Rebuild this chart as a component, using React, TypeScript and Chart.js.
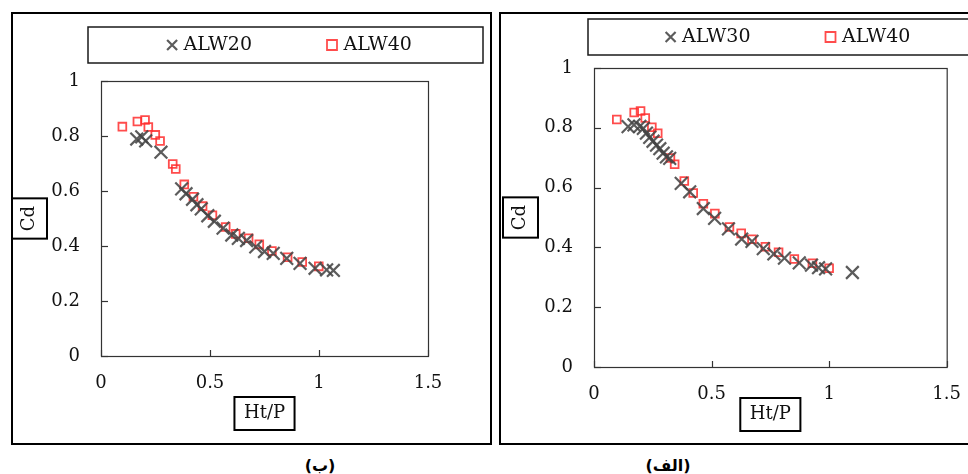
import React, { useEffect, useRef } from "react";
import { Chart, registerables } from "chart.js";

Chart.register(...registerables);

// ---------- Panel (ب) ----------
const alw20Ht = [0.164, 0.187, 0.205, 0.275, 0.37, 0.39, 0.42, 0.44, 0.46, 0.49, 0.52, 0.56, 0.6, 0.63, 0.668, 0.71, 0.75, 0.79, 0.852, 0.913, 0.982, 1.035, 1.066];
const alw20Cd = [0.789, 0.797, 0.782, 0.741, 0.608, 0.59, 0.57, 0.55, 0.535, 0.51, 0.49, 0.465, 0.44, 0.428, 0.42, 0.397, 0.38, 0.373, 0.355, 0.337, 0.319, 0.313, 0.311];
const alw40bHt = [0.098, 0.167, 0.202, 0.217, 0.249, 0.271, 0.329, 0.343, 0.382, 0.424, 0.466, 0.511, 0.572, 0.618, 0.677, 0.726, 0.784, 0.856, 0.923, 0.999];
const alw40bCd = [0.834, 0.853, 0.858, 0.833, 0.804, 0.782, 0.698, 0.68, 0.624, 0.579, 0.545, 0.512, 0.469, 0.444, 0.428, 0.406, 0.382, 0.359, 0.342, 0.326];

// ---------- Panel (الف) ----------
const alw30Ht = [0.145, 0.17, 0.195, 0.21, 0.223, 0.237, 0.251, 0.266, 0.28, 0.294, 0.308, 0.322, 0.371, 0.407, 0.465, 0.513, 0.572, 0.628, 0.672, 0.72, 0.765, 0.81, 0.873, 0.925, 0.955, 0.985, 1.099];
const alw30Cd = [0.804, 0.81, 0.805, 0.798, 0.782, 0.768, 0.755, 0.742, 0.73, 0.715, 0.703, 0.698, 0.614, 0.586, 0.53, 0.497, 0.462, 0.428, 0.42, 0.396, 0.378, 0.364, 0.348, 0.341, 0.332, 0.328, 0.316];
const alw40aHt = [0.097, 0.171, 0.198, 0.218, 0.246, 0.271, 0.325, 0.343, 0.384, 0.422, 0.465, 0.514, 0.576, 0.626, 0.672, 0.729, 0.785, 0.852, 0.929, 1.0];
const alw40aCd = [0.828, 0.851, 0.856, 0.833, 0.802, 0.782, 0.699, 0.678, 0.622, 0.582, 0.546, 0.513, 0.468, 0.447, 0.427, 0.402, 0.384, 0.361, 0.347, 0.33];

const xTickValues = [0, 0.5, 1, 1.5];
const yTickValues = [0, 0.2, 0.4, 0.6, 0.8, 1];
const xAxisTitle = "Ht/P";
const yAxisTitle = "Cd";
const captionB = "(ب)";
const captionA = "(الف)";

const SERIF = "'DejaVu Serif', 'Liberation Serif', serif";
const FONT_SIZE = 18;
const LEGEND_FONT_SIZE = 19;
const CROSS_COLOR = "rgba(70,70,70,0.88)";
const SQUARE_COLOR = "rgba(255,45,45,0.85)";

type PanelCfg = {
  crossLabel: string;
  crossX: number[];
  crossY: number[];
  squareLabel: string;
  squareX: number[];
  squareY: number[];
  yWidth: number;
  xHeight: number;
  padTop: number;
  padRight: number;
  yTitlePad: number;
  xTitlePad: number;
  legendCx: number;
  legendCy: number;
  legendBox: number[];
};

const decorPlugin = {
  id: "decor",
  afterLayout(chart: any) {
    const cfg = chart.options.plugins.decor;
    const lg = chart.legend;
    if (!lg || !cfg || !cfg.legendBox) return;
    const P = lg.options.labels.padding;
    lg.left = cfg.legendCx - 1000;
    lg.right = cfg.legendCx + 1000;
    lg.width = 2000;
    lg.top = cfg.legendCy - LEGEND_FONT_SIZE / 2 - P;
    lg.height = P + LEGEND_FONT_SIZE + 20;
    lg.bottom = lg.top + lg.height;
  },
  afterDraw(chart: any) {
    const cfg = chart.options.plugins.decor;
    if (!cfg || !cfg.legendBox) return;
    const { ctx, chartArea: ca, scales } = chart;
    ctx.save();
    // plot frame
    ctx.strokeStyle = "#333";
    ctx.lineWidth = 1.2;
    ctx.strokeRect(ca.left + 0.5, ca.top + 0.5, ca.right - ca.left, ca.bottom - ca.top);
    // inner ticks
    const ys = scales.y;
    ys.ticks.forEach((_t: any, i: number) => {
      const p = Math.round(ys.getPixelForTick(i)) + 0.5;
      ctx.beginPath();
      ctx.moveTo(ca.left, p);
      ctx.lineTo(ca.left + 7, p);
      ctx.stroke();
    });
    const xs = scales.x;
    xs.ticks.forEach((_t: any, i: number) => {
      const p = Math.round(xs.getPixelForTick(i)) + 0.5;
      ctx.beginPath();
      ctx.moveTo(p, ca.bottom);
      ctx.lineTo(p, ca.bottom - 6);
      ctx.stroke();
    });
    // legend frame
    const [l, t, r, b] = cfg.legendBox;
    ctx.strokeStyle = "#1a1a1a";
    ctx.lineWidth = 1.5;
    ctx.strokeRect(l, t, r - l, b - t);
    // axis title frames
    ctx.font = `${FONT_SIZE}px ${SERIF}`;
    ctx.strokeStyle = "#000";
    ctx.lineWidth = 2;
    const lh = FONT_SIZE * 1.2;
    const cdW = ctx.measureText(yAxisTitle).width;
    const ycx = ys.left + lh / 2 + cfg.yTitlePad;
    const ycy = (ca.top + ca.bottom) / 2;
    ctx.strokeRect(ycx - 17.5, ycy - (cdW / 2 + 7.5), 35, cdW + 15);
    const htW = ctx.measureText(xAxisTitle).width;
    const xcx = (ca.left + ca.right) / 2;
    const xcy = xs.bottom - lh / 2 - cfg.xTitlePad;
    ctx.strokeRect(xcx - (htW / 2 + 9.5), xcy - 16.5, htW + 19, 33);
    ctx.restore();
  },
};

function ScatterPanel({ cfg, left }: { cfg: PanelCfg; left: number }) {
  const ref = useRef<HTMLCanvasElement | null>(null);
  useEffect(() => {
    if (!ref.current) return;
    const font = { family: SERIF, size: FONT_SIZE };
    const legendFont = { family: SERIF, size: LEGEND_FONT_SIZE };
    const fmt = (v: any) => String(Number(v));
    const chart = new Chart(ref.current, {
      type: "scatter",
      data: {
        datasets: [
          {
            label: cfg.crossLabel,
            data: cfg.crossX.map((x, i) => ({ x, y: cfg.crossY[i] })),
            pointStyle: "crossRot",
            pointRadius: 9,
            pointHoverRadius: 9,
            pointBorderWidth: 2.2,
            pointBorderColor: CROSS_COLOR,
            pointBackgroundColor: "rgba(0,0,0,0)",
            borderColor: CROSS_COLOR,
            backgroundColor: "rgba(0,0,0,0)",
            showLine: false,
          },
          {
            label: cfg.squareLabel,
            data: cfg.squareX.map((x, i) => ({ x, y: cfg.squareY[i] })),
            pointStyle: "rect",
            pointRadius: 5.5,
            pointHoverRadius: 5.5,
            pointBorderWidth: 1.8,
            pointBorderColor: SQUARE_COLOR,
            pointBackgroundColor: "rgba(0,0,0,0)",
            borderColor: SQUARE_COLOR,
            backgroundColor: "rgba(0,0,0,0)",
            showLine: false,
          },
        ],
      },
      options: {
        responsive: false,
        animation: false,
        events: [],
        layout: { padding: { left: 0, top: cfg.padTop, right: cfg.padRight, bottom: 0 } },
        scales: {
          x: {
            type: "linear",
            min: 0,
            max: 1.5,
            afterBuildTicks: (s: any) => {
              s.ticks = xTickValues.map((v) => ({ value: v }));
            },
            afterFit: (s: any) => {
              s.height = cfg.xHeight;
            },
            grid: { display: false, drawTicks: false },
            border: { display: false },
            ticks: { font, color: "#111", padding: 17, maxRotation: 0, callback: fmt },
            title: { display: true, text: xAxisTitle, font, color: "#111", padding: { top: 4, bottom: cfg.xTitlePad } },
          },
          y: {
            type: "linear",
            min: 0,
            max: 1,
            afterBuildTicks: (s: any) => {
              s.ticks = yTickValues.map((v) => ({ value: v }));
            },
            afterFit: (s: any) => {
              s.width = cfg.yWidth;
            },
            grid: { display: false, drawTicks: false },
            border: { display: false },
            ticks: { font, color: "#111", padding: 21, callback: fmt },
            title: { display: true, text: yAxisTitle, font, color: "#111", padding: { top: cfg.yTitlePad, bottom: 4 } },
          },
        },
        plugins: {
          tooltip: { enabled: false },
          legend: {
            display: true,
            position: "top",
            maxHeight: 40,
            labels: {
              usePointStyle: true,
              boxWidth: 4,
              boxHeight: 10,
              padding: 78,
              font: legendFont,
              color: "#111",
            },
          },
          decor: cfg,
        } as any,
      },
      plugins: [decorPlugin],
    } as any);
    return () => chart.destroy();
  }, [cfg]);
  return (
    <div
      style={{
        position: "absolute",
        left,
        top: 12,
        width: 481,
        height: 433,
        border: "2px solid #000",
        boxSizing: "border-box",
      }}
    >
      <canvas ref={ref} width={477} height={429} style={{ position: "absolute", left: 0, top: 0, width: 477, height: 429 }} />
    </div>
  );
}

const cfgB: PanelCfg = {
  crossLabel: "ALW20",
  crossX: alw20Ht,
  crossY: alw20Cd,
  squareLabel: "ALW40",
  squareX: alw40bHt,
  squareY: alw40bCd,
  yWidth: 88,
  xHeight: 87,
  padTop: 27,
  padRight: 62,
  yTitlePad: 5.7,
  xTitlePad: 18.7,
  legendCx: 278,
  legendCy: 31,
  legendBox: [75, 13, 470, 49],
};

const cfgA: PanelCfg = {
  crossLabel: "ALW30",
  crossX: alw30Ht,
  crossY: alw30Cd,
  squareLabel: "ALW40",
  squareX: alw40aHt,
  squareY: alw40aCd,
  yWidth: 93,
  xHeight: 76,
  padTop: 14,
  padRight: 30,
  yTitlePad: 8.7,
  xTitlePad: 17.7,
  legendCx: 288.5,
  legendCy: 23,
  legendBox: [87, 5, 520, 41],
};

export default function App() {
  const capStyle: React.CSSProperties = {
    position: "absolute",
    top: 456,
    width: 80,
    textAlign: "center",
    fontFamily: "'DejaVu Sans', sans-serif",
    fontWeight: "bold",
    fontSize: 16,
    lineHeight: "20px",
    color: "#000",
  };
  return (
    <div
      style={{
        position: "fixed",
        left: 0,
        top: 0,
        width: 968,
        height: 474,
        overflow: "hidden",
        background: "#fff",
      }}
    >
      <ScatterPanel cfg={cfgB} left={11} />
      <ScatterPanel cfg={cfgA} left={499} />
      <div dir="rtl" style={{ ...capStyle, left: 280 }}>{captionB}</div>
      <div dir="rtl" style={{ ...capStyle, left: 628 }}>{captionA}</div>
    </div>
  );
}
